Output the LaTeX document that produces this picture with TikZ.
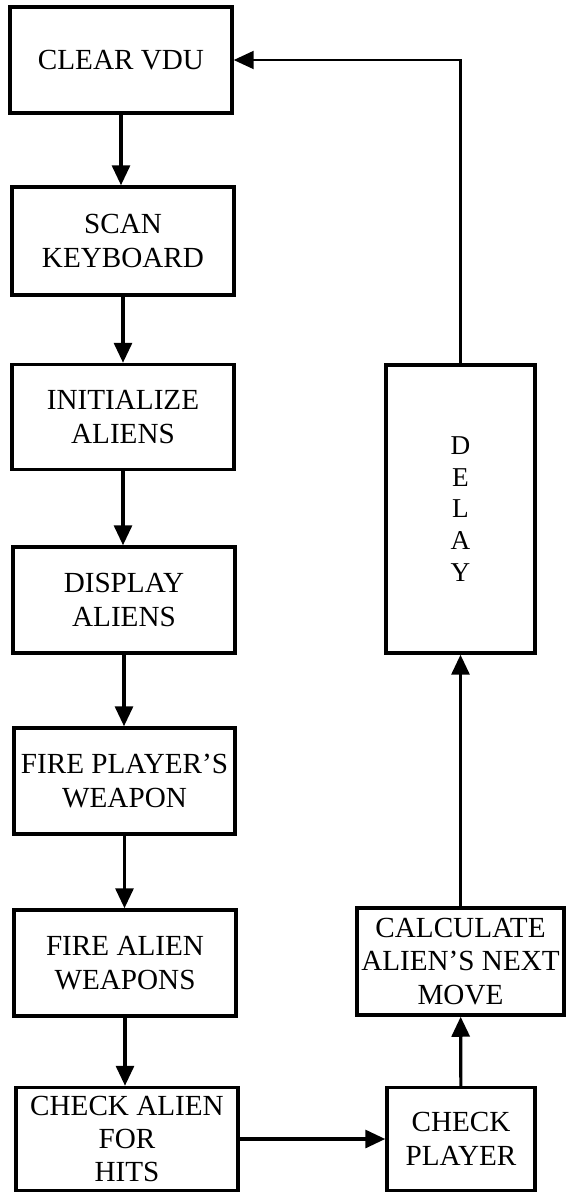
\documentclass[tikz,border=0pt]{standalone}
\usepackage{fontspec}
\setmainfont{Liberation Serif}
\usetikzlibrary{arrows.meta}

\begin{document}
\begin{tikzpicture}[x=0.02cm, y=-0.02cm,
    stage/.style={draw, line width=2pt, align=center, inner sep=0pt,
      font=\fontsize{16.6}{19}\selectfont},
    flow/.style={line width=1.8pt, -{Triangle[length=0.4cm, width=0.36cm]}}]
  \useasboundingbox (0,0) rectangle (567,1194);
  % left column
  \node[stage, minimum width=4.44cm, minimum height=2.12cm] (vdu)   at (121,60)   {CLEAR VDU};
  \node[stage, minimum width=4.44cm, minimum height=2.16cm] (scan)  at (123,241)  {SCAN\\KEYBOARD};
  \node[stage, minimum width=4.44cm, minimum height=2.10cm] (init)  at (123,417)  {INITIALIZE\\ALIENS};
  \node[stage, minimum width=4.44cm, minimum height=2.12cm] (disp)  at (124,600)  {DISPLAY\\ALIENS};
  \node[stage, minimum width=4.42cm, minimum height=2.12cm] (firep) at (124.5,781) {FIRE PLAYER'S\\WEAPON};
  \node[stage, minimum width=4.44cm, minimum height=2.12cm] (firea) at (125,963)  {FIRE ALIEN\\WEAPONS};
  \node[stage, minimum width=4.44cm, minimum height=2.06cm] (hits)  at (127,1139) {CHECK ALIEN\\FOR\\HITS};
  % right column
  \node[stage, minimum width=2.96cm, minimum height=2.06cm] (player) at (461,1139) {CHECK\\PLAYER};
  \node[stage, minimum width=4.14cm, minimum height=2.14cm] (calc)   at (460.5,961.5) {CALCULATE\\ALIEN'S NEXT\\MOVE};
  \node[stage, minimum width=2.98cm, minimum height=5.76cm,
    font=\fontsize{15.5}{18}\selectfont] (delay) at (460.5,509) {D\\E\\L\\A\\Y};
  % arrows down the left column
  \foreach \a/\b in {vdu/scan, scan/init, init/disp, disp/firep, firep/firea, firea/hits}
    \draw[flow] (\a) -- (\a |- \b.north);
  % back up the right side
  \draw[flow] (hits.east |- player) -- (player);
  \draw[flow] (player) -- (calc);
  \draw[flow] (calc) -- (delay);
  \draw[flow, line width=1.2pt] (delay.north) |- (vdu.east);
\end{tikzpicture}
\end{document}
